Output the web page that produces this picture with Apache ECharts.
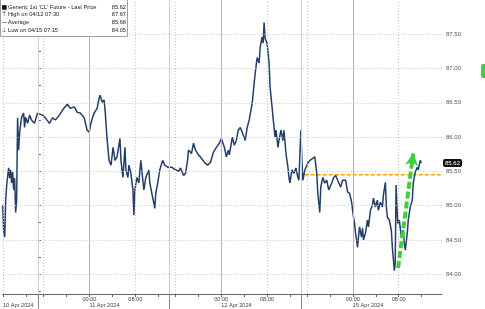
<!DOCTYPE html>
<html>
<head>
<meta charset="utf-8">
<script src="https://cdn.jsdelivr.net/npm/echarts@6/dist/echarts.min.js"></script>
<style>html,body{margin:0;padding:0;background:#fff;}#c{width:485px;height:309px;}</style>
</head>
<body>
<div id="c"></div>
<script>
// time in trading hours from the 11 Apr session open (sessions joined, weekend removed)
const times = [-6.15,-5.98,-5.80,-5.63,-5.45,-5.28,-5.11,-4.93,-4.76,-4.59,-4.41,-4.24,-4.07,-3.89,-3.72,-3.55,-3.37,-3.20,-2.85,-2.50,-2.33,-2.16,-1.81,-1.46,-1.12,-0.60,-0.07,0.27,0.79,1.31,2.01,2.53,3.05,3.74,4.26,5.13,5.65,6.35,6.87,7.39,8.08,8.60,8.95,9.30,9.82,10.34,10.69,10.86,11.21,11.56,11.73,12.07,12.42,12.77,13.12,13.46,13.81,14.33,14.50,14.85,15.20,15.37,15.72,15.89,16.24,16.59,16.76,16.93,17.28,17.63,17.97,18.32,18.50,18.84,19.37,19.54,19.89,20.23,20.41,20.58,20.93,21.27,21.79,22.14,22.66,23.35,23.87,24.57,24.91,25.43,25.78,26.13,26.30,26.82,27.17,27.52,28.04,28.39,29.09,29.61,30.13,30.65,31.17,31.69,32.04,32.56,32.91,33.25,33.43,33.95,34.30,34.64,34.99,35.34,35.86,36.21,36.55,36.90,37.42,37.77,37.94,38.29,38.63,38.81,39.15,39.33,39.50,39.67,40.02,40.37,40.54,40.89,41.06,41.24,41.41,41.58,41.93,42.10,42.45,42.80,42.97,43.32,43.66,43.84,44.01,44.36,44.71,45.05,45.40,45.58,45.92,46.10,46.27,46.62,47.14,47.49,48.01,48.36,48.70,48.88,49.22,49.40,49.75,50.09,50.44,50.79,51.31,51.66,52.00,52.35,52.87,53.22,53.74,54.08,54.43,54.78,55.12,55.30,55.47,55.82,55.99,56.16,56.51,56.69,56.86,57.21,57.55,57.73,58.07,58.42,58.60,58.94,59.29,59.46,59.81,60.16,60.33,60.68,60.85,61.03,61.37,61.72,61.90,62.25,62.40,62.55,62.70,62.85,63.12,63.47,63.81,63.99,64.16,64.51,64.68,65.03,65.38,65.55,65.90,66.25,66.42,66.77,66.94];
const prices = [85.01,84.61,84.54,85.08,85.30,85.43,85.55,85.40,85.52,85.33,85.49,85.23,85.40,84.90,85.08,86.28,85.81,86.06,86.29,86.35,86.14,86.29,86.20,86.32,86.25,86.20,86.35,86.36,86.32,86.28,86.20,86.28,86.25,86.32,86.39,86.48,86.42,86.44,86.36,86.35,86.28,86.10,86.07,86.22,86.35,86.42,86.57,86.61,86.51,86.54,86.39,85.98,85.66,85.59,85.85,85.66,85.71,85.98,85.66,85.41,85.85,85.52,85.41,85.59,85.47,85.23,84.86,85.23,85.41,85.33,85.66,85.37,85.23,85.41,85.52,85.33,85.18,85.04,84.96,85.18,85.33,85.52,85.66,85.59,85.56,85.56,85.53,85.50,85.55,85.44,85.47,85.66,85.81,85.76,85.91,85.81,85.74,85.71,85.63,85.59,85.63,85.78,85.85,85.91,85.98,85.85,85.71,85.81,85.74,86.00,85.88,85.95,86.10,86.14,86.03,85.95,86.14,86.25,86.49,86.79,86.93,87.16,87.08,87.31,87.46,87.37,87.67,87.44,87.37,87.08,86.73,86.44,86.29,86.14,86.00,86.10,85.85,85.95,86.10,85.95,86.10,85.76,85.56,85.41,85.33,85.52,85.47,85.55,85.41,85.37,86.10,85.66,85.37,85.52,85.62,85.66,85.69,85.71,85.47,85.18,84.90,85.27,85.41,85.33,85.37,85.23,85.33,85.41,85.44,85.37,85.27,85.37,85.37,85.20,85.18,85.05,84.83,84.74,84.60,84.39,84.54,84.69,84.54,84.67,84.50,84.60,84.79,84.69,84.93,85.01,85.11,84.98,85.08,84.93,85.05,84.98,85.15,85.34,84.98,84.83,84.79,84.64,84.39,84.05,84.16,85.30,84.98,84.74,84.79,84.54,84.64,84.45,84.35,84.60,84.79,84.98,85.08,85.33,85.49,85.56,85.52,85.66,85.62];

const xMin = -6.15, xMax = 70.57;
const yMin = 83.71, yMax = 88.0;
const yLabelValues = [84, 84.5, 85, 85.5, 86, 86.5, 87, 87.5];
const yTickValues = [83.75, 84, 84.25, 84.5, 84.75, 85, 85.25, 85.5, 85.75, 86, 86.25, 86.5, 86.75, 87, 87.25, 87.5, 87.75];
const hourTickValues = [-6, -2, 1, 5, 9, 13, 17, 21, 24, 28, 32, 36, 40, 44, 47, 51, 55, 59, 63, 67];
const hourLabelValues = [9, 17, 32, 40, 55, 63];
const hourLabels = ['00:00', '08:00', '00:00', '08:00', '00:00', '08:00'];
const dateLabelValues = [-6.1, 9, 32, 55];
const dateLabels = ['10 Apr 2024', '11 Apr 2024', '12 Apr 2024', '15 Apr 2024'];
const sessionBreaks = [0, 23, 46];
const midnightLines = [9, 32, 55];
const dottedLines = [-6, 1, 17, 24, 40, 47, 63];
const lastPrice = 85.62;
const averageLineTimes = [46.6, 70.57];
const averageLineValues = [85.45, 85.45];
const arrowFrom = [62.9, 84.09];
const arrowTo = [65.55, 85.76];
const legendRows = [
  ['■', "Generic 1st 'CL' Future - Last Price", '85.62'],
  ['⊤', 'High on 04/12 07:30', '87.67'],
  ['—', 'Average', '85.68'],
  ['⊥', 'Low on 04/15 07:15', '84.05']
];

const FONT = 'Liberation Sans';
const seriesData = times.map((t, i) => [t, prices[i]]);
const averageData = averageLineTimes.map((t, i) => [t, averageLineValues[i]]);

function lookup(vals, labels, v) {
  for (let i = 0; i < vals.length; i++) if (Math.abs(vals[i] - v) < 1e-6) return labels[i];
  return '';
}

const gridLines = [];
sessionBreaks.forEach(v => gridLines.push({xAxis: v, lineStyle: {color: '#cfcfcf', width: 1, type: 'solid'}}));
midnightLines.forEach(v => gridLines.push({xAxis: v, lineStyle: {color: '#b4b4b4', width: 1, type: 'solid'}}));
dottedLines.forEach(v => gridLines.push({xAxis: v, lineStyle: {color: '#c4c4c4', width: 1, type: [1, 2]}}));
yLabelValues.forEach(v => gridLines.push({yAxis: v, lineStyle: {color: '#c4c4c4', width: 1, type: [1, 2]}}));

const legendGraphics = [{
  type: 'rect', shape: {x: 0.5, y: -0.5, width: 127, height: 37},
  style: {fill: '#fff', stroke: '#a0a0a0', lineWidth: 1}, z: 100
}];
legendRows.forEach((r, i) => {
  const cy = 7 + i * 7.7;
  legendGraphics.push({type: 'text', x: 1.5, y: cy, z: 101, style: {text: r[0], font: '6px "DejaVu Sans"', fill: '#111', verticalAlign: 'middle'}});
  legendGraphics.push({type: 'text', x: 8, y: cy, z: 101, style: {text: r[1], font: '5.7px "' + FONT + '"', fill: '#222', verticalAlign: 'middle'}});
  legendGraphics.push({type: 'text', x: 126, y: cy, z: 101, style: {text: r[2], font: '5.7px "' + FONT + '"', fill: '#222', align: 'right', verticalAlign: 'middle'}});
});
legendGraphics.push({type: 'rect', shape: {x: 481, y: 64, width: 6, height: 14, r: 2}, style: {fill: '#3dd13d'}, z: 50});

const chart = echarts.init(document.getElementById('c'), null, {renderer: 'canvas'});
chart.setOption({
  animation: false,
  backgroundColor: '#fff',
  grid: {left: 0, right: 43, top: 0, bottom: 15, containLabel: false},
  xAxis: [{
    type: 'value', min: xMin, max: xMax, position: 'bottom',
    axisLine: {show: true, lineStyle: {color: '#666', width: 1}},
    axisTick: {show: true, length: 3, customValues: hourTickValues, lineStyle: {color: '#666'}},
    axisLabel: {show: true, customValues: hourLabelValues, margin: 2, fontSize: 5.6, fontFamily: FONT, color: '#444',
      formatter: v => lookup(hourLabelValues, hourLabels, v)},
    splitLine: {show: false}
  }, {
    type: 'value', min: xMin, max: xMax, position: 'bottom',
    axisLine: {show: false},
    axisTick: {show: true, length: 15, customValues: sessionBreaks, lineStyle: {color: '#888'}},
    axisLabel: {show: true, customValues: dateLabelValues, margin: 8, fontSize: 5.6, fontFamily: FONT, color: '#444', align: 'left',
      formatter: v => lookup(dateLabelValues, dateLabels, v)},
    splitLine: {show: false}
  }],
  yAxis: {
    type: 'value', min: yMin, max: yMax, position: 'right',
    axisLine: {show: true, lineStyle: {color: '#666', width: 1}},
    axisTick: {show: true, length: 3, customValues: yTickValues, lineStyle: {color: '#666'}},
    axisLabel: {show: true, customValues: yLabelValues, margin: 4, fontSize: 6, fontFamily: FONT, color: '#555',
      formatter: v => v.toFixed(2)},
    splitLine: {show: false}
  },
  graphic: legendGraphics,
  series: [{
    type: 'line', data: [], z: 1, clip: false, silent: true,
    markLine: {silent: true, symbol: ['none', 'none'], label: {show: false}, data: gridLines, animation: false}
  }, {
    type: 'line', data: averageData, z: 2, showSymbol: false, symbol: 'none', silent: true,
    lineStyle: {color: '#ffa200', width: 1.5, type: [4, 2]}
  }, {
    type: 'line', data: seriesData, z: 3, showSymbol: false, symbol: 'none',
    lineStyle: {color: '#233f68', width: 1.5}, clip: true
  }, {
    type: 'line', data: [], z: 4, clip: false, silent: true,
    markLine: {
      silent: true, symbol: ['none', 'none'], animation: false,
      lineStyle: {color: 'rgba(0,0,0,0)', width: 0},
      data: [
        {yAxis: lastPrice,
          label: {show: true, position: 'end', distance: 1, formatter: lastPrice.toFixed(2), color: '#fff',
            backgroundColor: '#111', padding: [1, 2, 1, 2], borderRadius: 2, fontSize: 6, fontFamily: FONT}}
      ]
    }
  }, {
    type: 'line', data: [], z: 5, clip: false, silent: true, color: '#3dd13d',
    markLine: {
      silent: true, symbol: ['none', 'arrow'], symbolSize: [10, 12], animation: false,
      lineStyle: {color: '#3dd13d', width: 4, type: [7, 3], opacity: 1},
      label: {show: false},
      data: [[{coord: arrowFrom}, {coord: arrowTo}]]
    }
  }]
});
</script>
</body>
</html>
